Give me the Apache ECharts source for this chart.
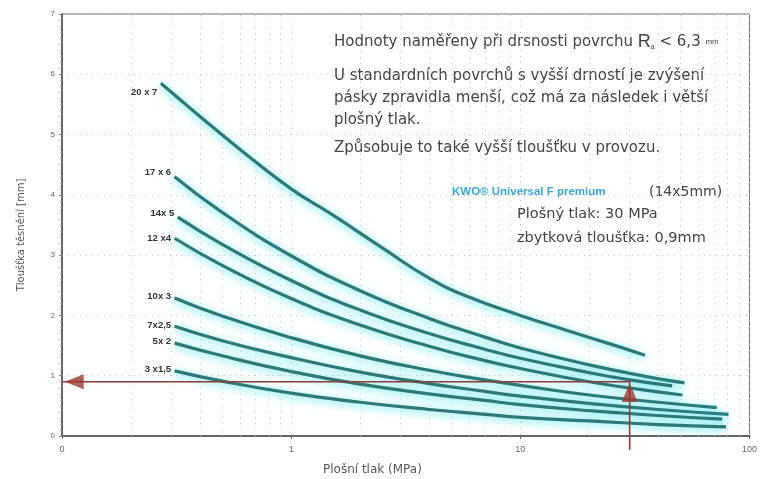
<!DOCTYPE html>
<html><head><meta charset="utf-8">
<script src="https://cdn.jsdelivr.net/npm/echarts@6/dist/echarts.min.js"></script>
<style>html,body{margin:0;padding:0;background:#fff}#c{width:760px;height:479px}</style>
</head><body><div id="c"></div>
<script>
// ---- data ----
const xTickLabels = {0.1: '0', 1: '1', 10: '10', 100: '100'};
const minorX = [0.2,0.3,0.4,0.5,0.6,0.7,0.8,0.9,2,3,4,5,6,7,8,9,20,30,40,50,60,70,80,90];

const n20x7 = '20 x 7';
const x20x7 = [0.27,0.4,0.6,1,1.5,2.5,4,6,10,16,25,35];
const y20x7 = [5.85,5.30,4.75,4.10,3.68,3.12,2.62,2.30,2.00,1.75,1.52,1.34];

const n17x6 = '17 x 6';
const x17x6 = [0.31,0.5,1,2,4,7,10,20,35,52];
const y17x6 = [4.30,3.71,2.99,2.41,1.95,1.64,1.46,1.18,0.99,0.88];

const n14x5 = '14x 5';
const x14x5 = [0.32,0.5,1,2,4,7,10,20,30,46];
const y14x5 = [3.63,3.18,2.58,2.09,1.70,1.44,1.29,1.05,0.93,0.83];

const n12x4 = '12 x4';
const x12x4 = [0.31,0.5,1,2,4,7,10,20,35,51];
const y12x4 = [3.28,2.83,2.28,1.84,1.49,1.25,1.12,0.90,0.76,0.68];

const n10x3 = '10x 3';
const x10x3 = [0.31,0.5,1,2,4,7,10,20,40,72];
const y10x3 = [2.29,1.99,1.63,1.33,1.09,0.93,0.84,0.68,0.56,0.47];

const n7x25 = '7x2,5';
const x7x25 = [0.31,0.5,1,2,4,7,10,20,40,81];
const y7x25 = [1.82,1.58,1.30,1.06,0.87,0.74,0.66,0.54,0.44,0.36];

const n5x2 = '5x 2';
const x5x2 = [0.31,0.5,1,2,4,7,10,20,40,76];
const y5x2 = [1.54,1.33,1.07,0.86,0.70,0.59,0.52,0.42,0.34,0.28];

const n3x15 = '3 x1,5';
const x3x15 = [0.31,0.5,1,2,4,7,10,20,40,79];
const y3x15 = [1.08,0.91,0.71,0.56,0.44,0.36,0.31,0.25,0.19,0.15];

// arrow: 30 MPa -> 0.9 mm
const arrowVx = [30, 30];
const arrowVy = [-0.23, 0.93];
const arrowHx = [30, 0.1];
const arrowHy = [0.9, 0.9];
const headUp = [30, 0.72];
const headLeft = [0.113, 0.9];

// ---- chart ----
const FONT = '"Liberation Sans", Arial, sans-serif';
const TFONT = '"DejaVu Sans", sans-serif';
const zip = (xs, ys) => xs.map((x, i) => [x, ys[i]]);

function curve(name, xs, ys, offY) {
  const d = zip(xs, ys);
  d[0] = {value: d[0],
    label: {show: true, position: 'left', distance: 3, offset: [0, offY],
    formatter: name, color: '#333', fontSize: 9.5, fontWeight: 'bold', fontFamily: FONT}};
  return {
    name: name, type: 'line', smooth: true, symbol: 'circle', symbolSize: 1, showSymbol: true, data: d, z: 5,
    itemStyle: {color: 'rgba(0,0,0,0)', borderWidth: 0},
    label: {show: false},
    lineStyle: {color: '#2d7878', width: 3.2, shadowColor: 'rgba(40,225,235,0.85)', shadowBlur: 8, shadowOffsetY: 2}
  };
}

const chart = echarts.init(document.getElementById('c'), null, {renderer: 'canvas'});
const option = {
  animation: false,
  backgroundColor: '#fff',
  grid: {left: 62, right: 8, top: 14, bottom: 43, show: true, borderColor: '#707070', borderWidth: 1},
  xAxis: {
    type: 'log', logBase: 10, min: 0.1, max: 100,
    axisLine: {show: true, lineStyle: {color: '#666', width: 2}},
    axisTick: {show: true, length: 3, lineStyle: {color: '#666'}},
    axisLabel: {formatter: v => xTickLabels[v] !== undefined ? xTickLabels[v] : '', fontSize: 9, color: '#666', margin: 9, fontFamily: FONT, showMaxLabel: true},
    splitLine: {show: true, lineStyle: {color: '#c4c4c4', type: [1, 5], width: 1}},
    minorTick: {show: false}
  },
  yAxis: {
    type: 'value', min: 0, max: 7, interval: 1,
    axisLine: {show: true, lineStyle: {color: '#666', width: 2}},
    axisTick: {show: true, length: 3, lineStyle: {color: '#888'}},
    minorTick: {show: true, splitNumber: 10, length: 2, lineStyle: {color: '#aaa'}},
    axisLabel: {fontSize: 8, color: '#666', margin: 7, fontFamily: FONT},
    splitLine: {show: true, lineStyle: {color: '#c4c4c4', type: [1, 5], width: 1}},
    name: 'Tloušťka těsnění [mm]', nameLocation: 'middle', nameGap: 36, nameRotate: 90,
    nameTextStyle: {fontSize: 10, color: '#555', fontFamily: TFONT, padding: [0, 0, 0, -20]}
  },
  series: [
    {
      type: 'line', data: [], silent: true, symbol: 'none',
      markLine: {silent: true, symbol: 'none', label: {show: false},
        lineStyle: {color: '#cacaca', type: [1, 5], width: 1},
        data: minorX.map(v => ({xAxis: v}))}
    },
    curve(n20x7, x20x7, y20x7, 9),
    curve(n17x6, x17x6, y17x6, -4),
    curve(n14x5, x14x5, y14x5, -4),
    curve(n12x4, x12x4, y12x4, 0),
    curve(n10x3, x10x3, y10x3, -2),
    curve(n7x25, x7x25, y7x25, -1),
    curve(n5x2, x5x2, y5x2, -2),
    curve(n3x15, x3x15, y3x15, -2),
    {type: 'line', data: zip(arrowVx, arrowVy), symbol: 'none', clip: false, z: 8,
      lineStyle: {color: '#8e3b35', width: 1.6}},
    {type: 'line', data: zip(arrowHx, arrowHy), symbol: 'none', clip: false, z: 8,
      lineStyle: {color: '#8e3b35', width: 1.6}},
    {type: 'scatter', data: [headUp], symbol: 'triangle', symbolSize: [16, 19], z: 9, clip: false,
      itemStyle: {color: '#9c3a31'}},
    {type: 'scatter', data: [headLeft], symbol: 'triangle', symbolRotate: 90, symbolSize: [15, 19], z: 9, clip: false,
      itemStyle: {color: '#9c3a31'}}
  ],
  graphic: [
    {type: 'text', left: 323, top: 464, style: {text: 'Plošní tlak (MPa)', fontSize: 12, fontFamily: TFONT, fill: '#555'}},
    {type: 'text', left: 334, top: 33, style: {
      text: 'Hodnoty naměřeny při drsnosti povrchu {R|R}{sub|a} < 6,3 {s|mm}',
      fontSize: 15, fontFamily: TFONT, fill: '#444',
      rich: {R: {fontSize: 18, fontFamily: FONT, fill: '#444'}, sub: {fontSize: 7, fontFamily: FONT, fill: '#444', verticalAlign: 'bottom', padding: [6, 0, 0, 0]}, s: {fontSize: 8, fontFamily: FONT, fill: '#444'}}
    }},
    {type: 'text', left: 334, top: 65, style: {
      text: 'U standardních povrchů s vyšší drností je zvýšení\npásky zpravidla menší, což má za následek i větší\nplošný tlak.',
      fontSize: 15, fontFamily: TFONT, fill: '#444', lineHeight: 22
    }},
    {type: 'text', left: 334, top: 137, style: {
      text: 'Způsobuje to také vyšší tloušťku v provozu.',
      fontSize: 15, fontFamily: TFONT, fill: '#444', lineHeight: 22
    }},
    {type: 'text', left: 452, top: 186, style: {
      text: 'KWO® Universal F premium', fontSize: 11.5, fontFamily: FONT, fill: '#3aa6d8', fontWeight: 'bold'
    }},
    {type: 'text', left: 649, top: 185, style: {text: '(14x5mm)', fontSize: 14, fontFamily: TFONT, fill: '#444'}},
    {type: 'text', left: 517, top: 207, style: {text: 'Plošný tlak: 30 MPa', fontSize: 14.5, fontFamily: TFONT, fill: '#444'}},
    {type: 'text', left: 517, top: 231, style: {text: 'zbytková tloušťka: 0,9mm', fontSize: 14.5, fontFamily: TFONT, fill: '#444'}}
  ]
};
chart.setOption(option);
</script>
</body></html>
